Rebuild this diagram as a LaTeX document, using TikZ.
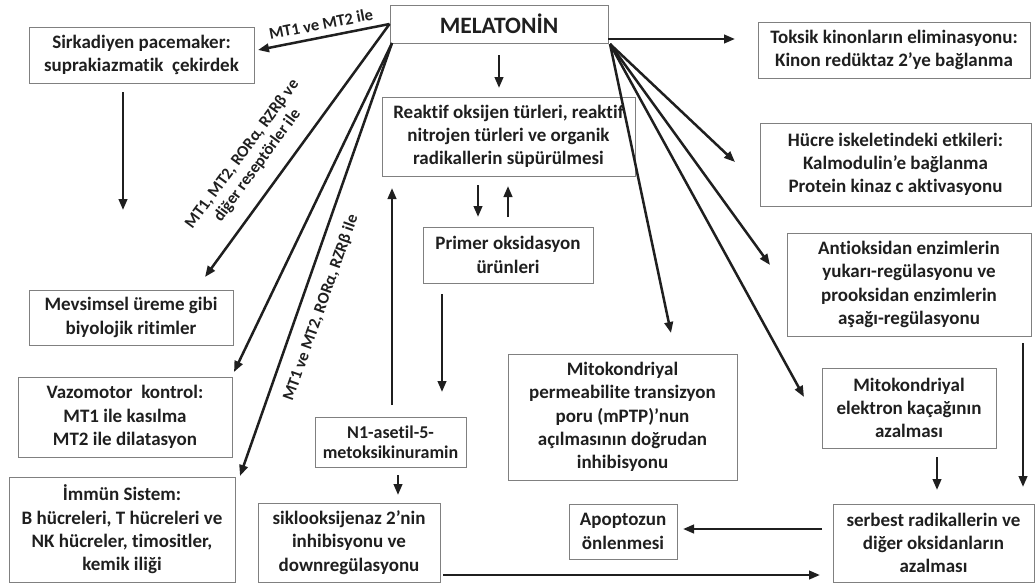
\documentclass[tikz,border=0pt]{standalone}
\usepackage{fontspec}
\setmainfont{Carlito}[Ligatures=NoCommon]
\usetikzlibrary{arrows.meta}
\definecolor{boxgray}{HTML}{808080}
\definecolor{ink}{HTML}{1F1F1F}
\begin{document}
\begin{tikzpicture}[x=1pt,y=-1pt,
  box/.style={draw=boxgray, line width=0.9pt, align=center, text=ink, inner sep=0pt,
    font=\bfseries\fontsize{19}{23.3}\selectfont},
  arr/.style={line width=2.5pt, draw=ink, -{Triangle[length=11pt,width=8.5pt]}},
  lab/.style={text=ink, font=\bfseries\fontsize{16.5}{19}\selectfont, align=center, inner sep=0pt}]
\useasboundingbox (0,0) rectangle (1035,584);

% boxes
\node[box, minimum width=218, minimum height=38] (mel) at (499,24) {\fontsize{23.5}{27}\selectfont MELATONİN};
\node[box, minimum width=225, minimum height=56] (sirk) at (141.5,55) {Sirkadiyen pacemaker:\\suprakiazmatik\ \ çekirdek};
\node[box, minimum width=253, minimum height=79] (reak) at (508.5,136.5) {Reaktif oksijen türleri, reaktif\\nitrojen türleri ve organik\\radikallerin süpürülmesi};
\node[box, minimum width=272, minimum height=56] (toks) at (894,50) {Toksik kinonların eliminasyonu:\\Kinon redüktaz 2'ye bağlanma};
\node[box, minimum width=271, minimum height=83] (hucre) at (895.5,164.5) {Hücre iskeletindeki etkileri:\\Kalmodulin’e bağlanma\\Protein kinaz c aktivasyonu};
\node[box, minimum width=244, minimum height=103] (anti) at (909,284.5) {Antioksidan enzimlerin\\yukarı-regülasyonu ve\\prooksidan enzimlerin\\aşağı-regülasyonu};
\node[box, minimum width=174, minimum height=80] (mito) at (909,408) {Mitokondriyal\\elektron kaçağının\\azalması};
\node[box, minimum width=201, minimum height=78] (serb) at (933.5,543) {serbest radikallerin ve\\diğer oksidanların\\azalması};
\node[box, minimum width=108, minimum height=55] (apop) at (623,531.5) {Apoptozun\\önlenmesi};
\node[box, minimum width=229, minimum height=126] (mptp) at (622.5,417) {Mitokondriyal\\permeabilite transizyon\\poru (mPTP)'nun\\açılmasının doğrudan\\inhibisyonu};
\node[box, minimum width=170, minimum height=56] (prim) at (508,255) {Primer oksidasyon\\ürünleri};
\node[box, minimum width=151, minimum height=50, font=\bfseries\fontsize{18}{20.5}\selectfont] (n1) at (390.5,442) {N1-asetil-5-\\metoksikinuramin};
\node[box, minimum width=182, minimum height=79] (sikl) at (349,542.5) {siklooksijenaz 2'nin\\inhibisyonu ve\\downregülasyonu};
\node[box, minimum width=204, minimum height=55] (mevs) at (131,317.5) {Mevsimsel üreme gibi\\biyolojik ritimler};
\node[box, minimum width=214, minimum height=80] (vazo) at (125,417) {Vazomotor\ \ kontrol:\\MT1 ile kasılma\\MT2 ile dilatasyon};
\node[box, minimum width=226, minimum height=105] (immun) at (122,529.5) {İmmün Sistem:\\B hücreleri, T hücreleri ve\\NK hücreler, timositler,\\kemik iliği};

% free ends of connectors
\coordinate (tSirk) at (258,50);
\coordinate (sSirk) at (123,92);
\coordinate (tMevsA) at (123,210);
\coordinate (tMevs) at (205,277);
\coordinate (mSW) at (392,43);
\coordinate (tVazo) at (234,372);
\coordinate (tImm) at (240,476);
\coordinate (sMel) at (499,55);
\coordinate (tReak) at (499,88);
\coordinate (sReak) at (478,185);
\coordinate (tPrim) at (478,217);
\coordinate (sPrim) at (508,217);
\coordinate (tReak2) at (508,186);
\coordinate (sPrim2) at (442,294);
\coordinate (tN1) at (442,392);
\coordinate (sN1) at (392,405);
\coordinate (tReak3) at (392,188);
\coordinate (sN1b) at (398,475);
\coordinate (tSikl) at (398,495);
\coordinate (sSikl) at (443,575);
\coordinate (tSerb) at (820,575);
\coordinate (sSerb) at (822,529);
\coordinate (tApop) at (683,529);
\coordinate (sMito) at (937,457);
\coordinate (tSerb2) at (937,490);
\coordinate (sAnti) at (1023,343);
\coordinate (tSerb3) at (1023,487);
\coordinate (sMelE) at (608,39);
\coordinate (tToks) at (735,39);
\coordinate (mSE) at (610,44);
\coordinate (tHuc) at (735,162);
\coordinate (tAnti) at (770,265);
\coordinate (tMito) at (804,397);
\coordinate (tMptp) at (671,333);

% connectors
\draw[arr] (mel.west) -- (tSirk);
\draw[arr] (sSirk) -- (tMevsA);
\draw[arr] (mel.west) -- (tMevs);
\draw[arr] (mSW) -- (tVazo);
\draw[arr] (mSW) -- (tImm);
\draw[arr] (sMel) -- (tReak);
\draw[arr] (sReak) -- (tPrim);
\draw[arr] (sPrim) -- (tReak2);
\draw[arr] (sPrim2) -- (tN1);
\draw[arr] (sN1) -- (tReak3);
\draw[arr] (sN1b) -- (tSikl);
\draw[arr] (sSikl) -- (tSerb);
\draw[arr] (sSerb) -- (tApop);
\draw[arr] (sMito) -- (tSerb2);
\draw[arr] (sAnti) -- (tSerb3);
\draw[arr] (sMelE) -- (tToks);
\draw[arr] (mSE) -- (tHuc);
\draw[arr] (mSE) -- (tAnti);
\draw[arr] (mSE) -- (tMito);
\draw[arr] (mSE) -- (tMptp);

% labels
\node[lab, rotate=11] (l1) at (321,24) {MT1 ve MT2 ile};
\node[lab, rotate=53.7] (l2) at (250,160) {MT1, MT2, RORα, RZRβ ve\\diğer reseptörler ile};
\node[lab, rotate=70.5] (l3) at (321,308) {MT1 ve MT2, RORα, RZRβ ile};
\end{tikzpicture}
\end{document}
